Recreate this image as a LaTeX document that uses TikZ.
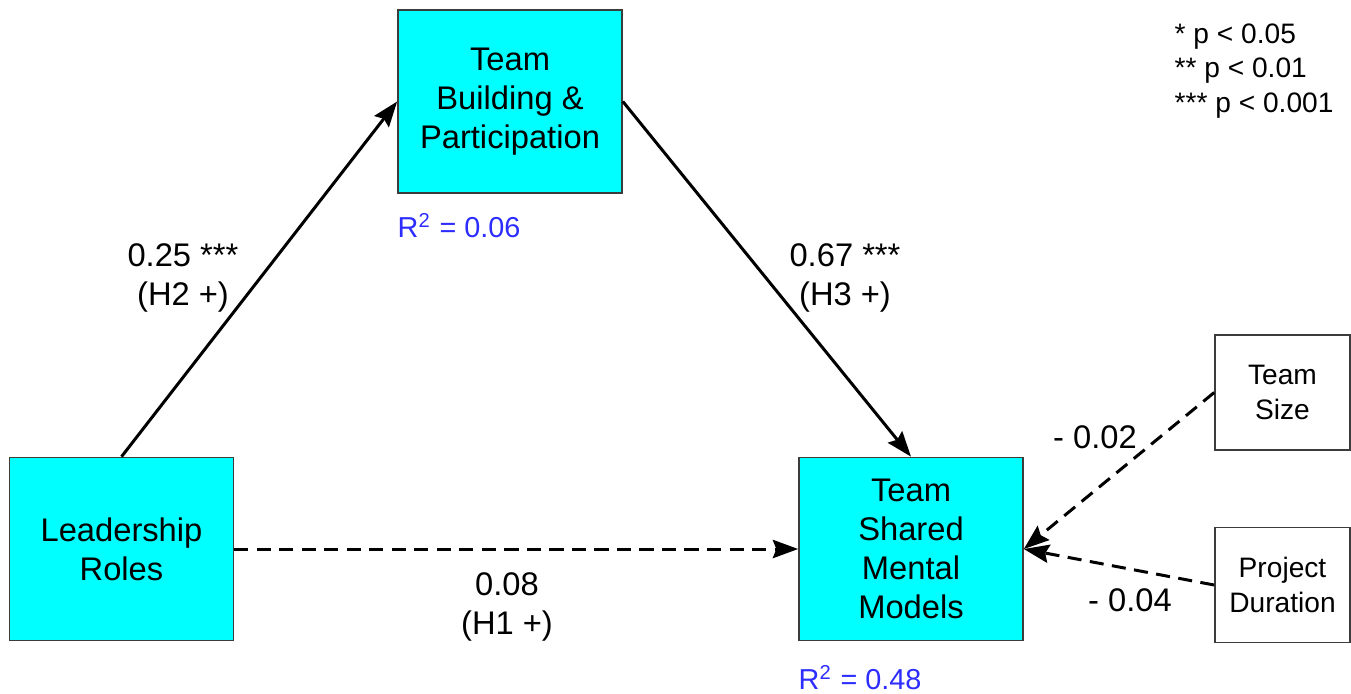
\documentclass[tikz,border=0pt]{standalone}
\usepackage{fontspec}
\setmainfont{Liberation Sans}
\usetikzlibrary{arrows.meta}

\definecolor{boxcyan}{RGB}{0,255,255}
\definecolor{boxline}{RGB}{60,60,60}
\definecolor{rblue}{RGB}{45,45,255}

\tikzset{
  bigbox/.style={draw=boxline, line width=0.45pt, fill=boxcyan, minimum width=2.24cm, minimum height=1.83cm, inner sep=0pt, align=center, font=\fontsize{9.3}{11.1}\selectfont},
  ctrlbox/.style={draw=boxline, line width=0.45pt, fill=white, minimum width=1.35cm, minimum height=1.15cm, inner sep=0pt, align=center, font=\fontsize{8}{10}\selectfont},
  effect/.style={line width=0.85pt, -{Stealth[length=7.2pt, width=5.2pt, inset=1pt]}},
  weak/.style={effect, dash pattern=on 4pt off 2.4pt},
  coef/.style={inner sep=0pt, align=center, font=\fontsize{9.3}{11.2}\selectfont},
  rsq/.style={inner sep=0pt, anchor=west, text=rblue, font=\fontsize{8.2}{10}\selectfont},
  sig/.style={inner sep=0pt, anchor=west, align=left, font=\fontsize{8}{9.8}\selectfont}
}

\begin{document}
\begin{tikzpicture}[x=0.01cm, y=-0.01cm]
    \useasboundingbox (0,0) rectangle (1351,693);

    % Main constructs
    \node[bigbox] (build) at (510,101.5) {Team\\Building \&\\Participation};
    \node[bigbox] (lead) at (121.5,549) {Leadership\\Roles};
    \node[bigbox] (smm) at (911,549) {Team\\Shared\\Mental\\Models};

    % Control variables
    \node[ctrlbox] (size) at (1282.5,392.5) {Team\\Size};
    \node[ctrlbox] (dur) at (1282.5,585) {Project\\Duration};

    % Explained variance
    \node[rsq] (buildrsq) at (397,226) {R\textsuperscript{2} = 0.06};
    \node[rsq] (smmrsq) at (798,678) {R\textsuperscript{2} = 0.48};

    % Paths
    \draw[effect] (lead.north) -- (build.west);
    \draw[effect] (build.east) -- (smm.north);
    \draw[weak] (lead.east) -- (smm.west);
    \draw[weak] (size.west) -- (smm.east);
    \draw[weak] (dur.west) -- (smm.east);

    % Path coefficients
    \node[coef] (h2) at (183,278) {0.25 ***\\(H2 +)};
    \node[coef] (h3) at (845,278) {0.67 ***\\(H3 +)};
    \node[coef] (h1) at (507,607) {0.08\\(H1 +)};
    \node[coef] (csize) at (1095,437) {- 0.02};
    \node[coef] (cdur) at (1130,600) {- 0.04};

    % Significance legend
    \node[sig] (legend) at (1174,71) {* p < 0.05\\** p < 0.01\\*** p < 0.001};
\end{tikzpicture}
\end{document}
